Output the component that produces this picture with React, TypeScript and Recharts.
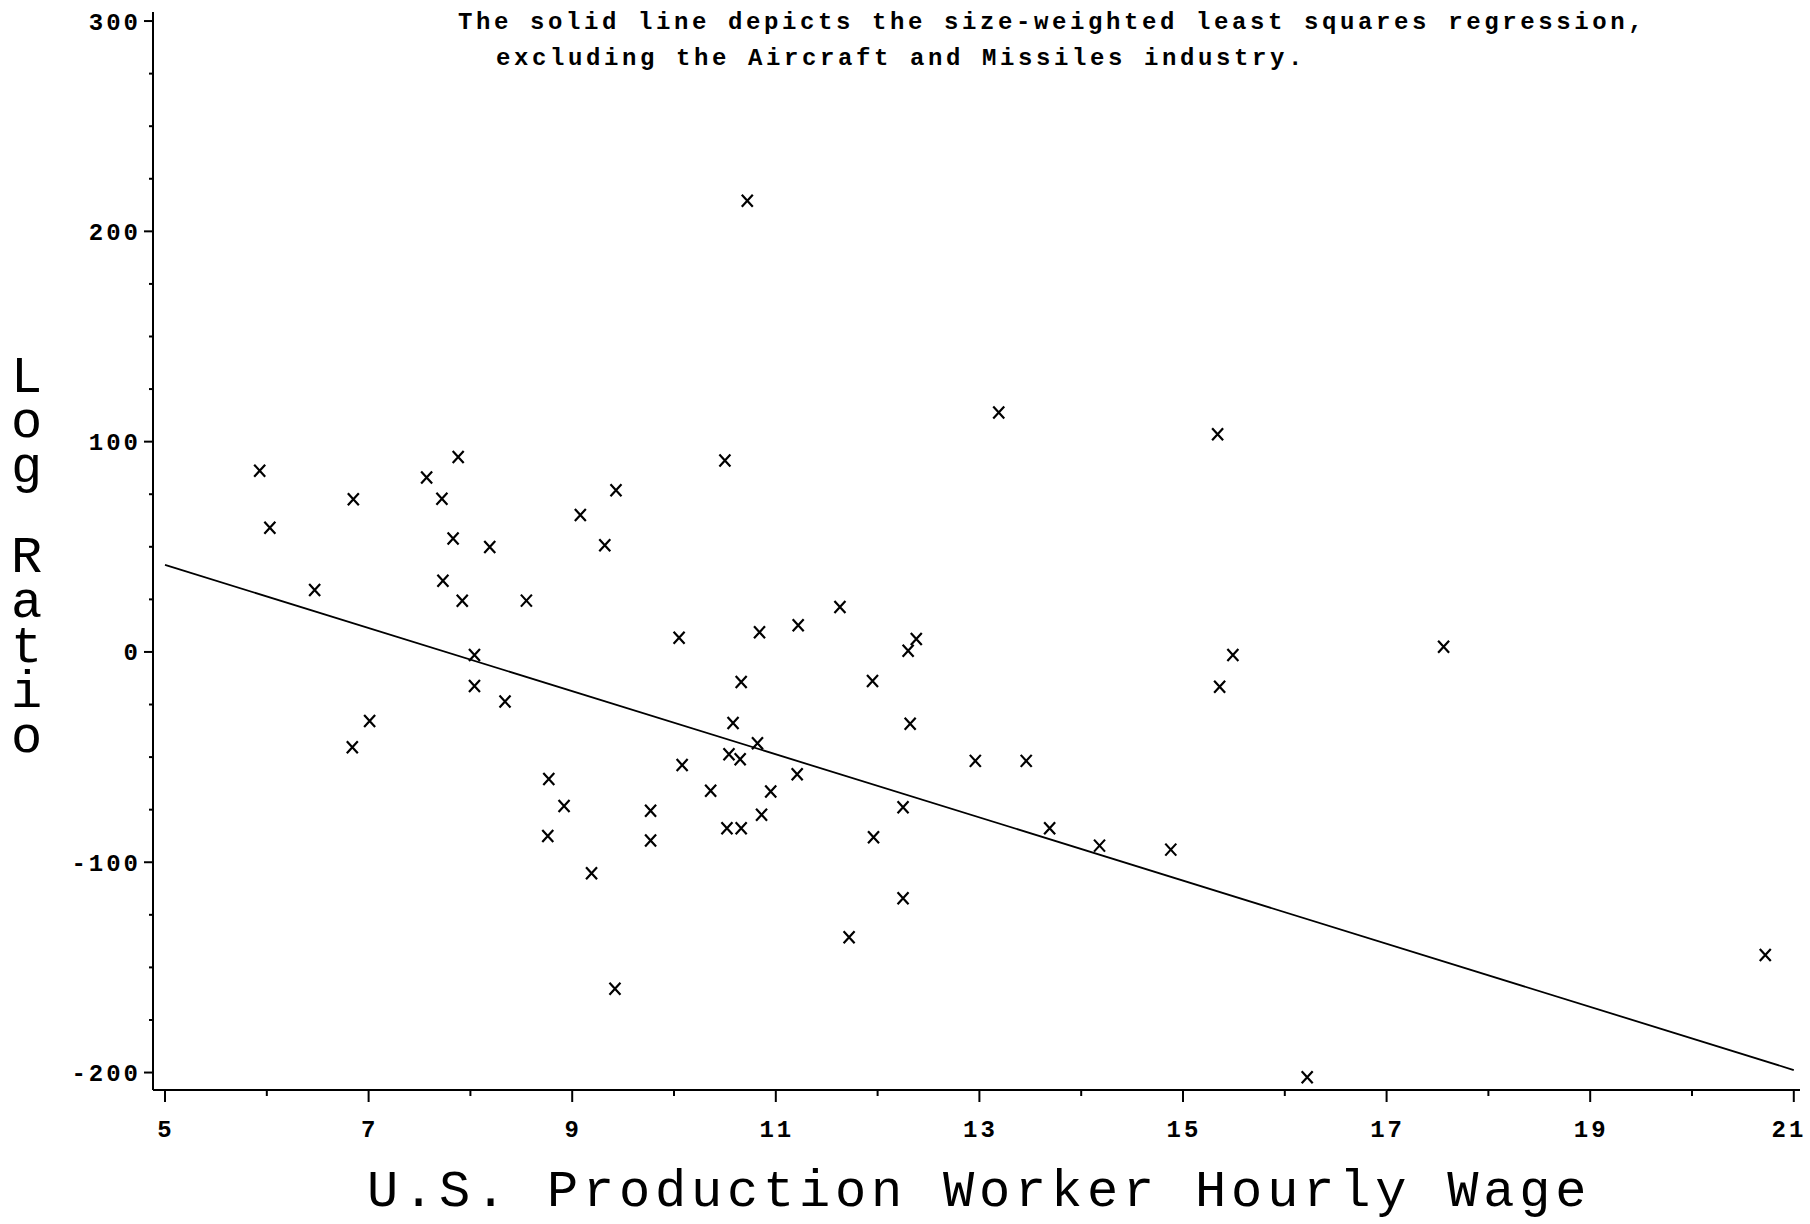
import { ScatterChart, Scatter, XAxis, YAxis } from "recharts";

// industries: U.S. production worker hourly wage vs log ratio
const wage = [
  5.93, 6.03, 6.47, 6.85, 6.84, 7.01, 7.57, 7.72, 7.88, 7.83, 7.73, 7.92, 8.19,
  8.04, 8.04, 8.34, 8.55, 9.08, 9.43, 9.32, 8.77, 8.92, 8.76, 9.19, 9.42, 9.77,
  9.77, 10.05, 10.08, 10.36, 10.5, 10.72, 10.54, 10.58, 10.66, 10.65, 10.52, 10.66,
  10.82, 10.84, 10.86, 10.95, 11.22, 11.21, 11.63, 11.72, 11.95, 11.96, 12.25,
  12.25, 12.3, 12.38, 12.32, 12.96, 13.19, 13.46, 13.69, 14.18, 14.88, 15.34,
  15.36, 15.49, 16.22, 17.56, 20.72,
];
const logRatio = [
  86.2, 59.1, 29.5, 72.6, -45.3, -32.8, 82.9, 72.9, 92.7, 53.9, 33.9, 24.3, 49.9,
  -1.4, -16.2, -23.6, 24.4, 65.1, 76.9, 50.7, -60.4, -73.2, -87.5, -105.2, -160.2,
  -75.5, -89.7, 6.8, -53.8, -66.0, 91.0, 214.6, -48.6, -33.8, -14.3, -51.0, -83.8,
  -83.8, -43.4, 9.4, -77.4, -66.4, 12.7, -58.2, 21.4, -135.7, -13.8, -88.1, -73.9,
  -117.1, 0.6, 6.2, -34.1, -51.8, 113.9, -51.8, -83.8, -92.1, -94.0, 103.5,
  -16.5, -1.4, -202.2, 2.5, -144.1,
];

// size-weighted least squares line (ends)
const fitWage = [5, 21];
const fitLogRatio = [41.4, -198.8];

const xTicks = [5, 6, 7, 8, 9, 10, 11, 12, 13, 14, 15, 16, 17, 18, 19, 20, 21];
const yTicks = [
  -200, -175, -150, -125, -100, -75, -50, -25, 0, 25, 50, 75, 100, 125, 150, 175,
  200, 225, 250, 275, 300,
];

const noteLines = [
  "The solid line depicts the size-weighted least squares regression,",
  "excluding the Aircraft and Missiles industry.",
];
const xTitle = "U.S. Production Worker Hourly Wage";
const yTitle = "Log Ratio";

const FONT = "'Liberation Mono', 'Courier New', monospace";

const points = wage.map((w, i) => ({ wage: w, logRatio: logRatio[i] }));
const fit = fitWage.map((w, i) => ({ wage: w, logRatio: fitLogRatio[i] }));

function XTick({ x, y, payload }: any) {
  const v = payload.value;
  const major = v % 2 === 1;
  return (
    <g>
      <line x1={x} x2={x} y1={y} y2={y + (major ? 12 : 6)} stroke="#000" strokeWidth={2} />
      {major && (
        <text
          x={Math.min(x + 1, 1789)}
          y={y + 40}
          textAnchor="middle"
          dominantBaseline="central"
          fontFamily={FONT}
          fontWeight="bold"
          fontSize={24}
          letterSpacing={3}
          fill="#000"
        >
          {v}
        </text>
      )}
    </g>
  );
}

function YTick({ x, y, payload }: any) {
  const v = payload.value;
  const major = v % 100 === 0;
  return (
    <g>
      <line x1={x} x2={x - (major ? 9 : 4)} y1={y} y2={y} stroke="#000" strokeWidth={2} />
      {major && (
        <text
          x={x - 12}
          y={y + 2}
          textAnchor="end"
          dominantBaseline="central"
          fontFamily={FONT}
          fontWeight="bold"
          fontSize={24}
          letterSpacing={3}
          fill="#000"
        >
          {v}
        </text>
      )}
    </g>
  );
}

function XMark({ cx, cy }: any) {
  return (
    <path
      d={`M${cx - 5.5},${cy - 6}L${cx + 5.5},${cy + 6}M${cx + 5.5},${cy - 6}L${cx - 5.5},${cy + 6}`}
      stroke="#000"
      strokeWidth={2.2}
      fill="none"
    />
  );
}

export default function App() {
  return (
    <div style={{ position: "absolute", left: 0, top: 0, width: 1810, height: 1224, background: "#fff" }}>
      <ScatterChart width={1810} height={1224} margin={{ top: 12, right: 10, bottom: 0, left: 0 }}>
        <XAxis
          type="number"
          dataKey="wage"
          domain={[4.882, 21.061]}
          ticks={xTicks}
          interval={0}
          allowDataOverflow
          height={134}
          tickSize={0}
          tickMargin={0}
          tickLine={false}
          tick={<XTick />}
          axisLine={{ stroke: "#000", strokeWidth: 2 }}
        />
        <YAxis
          type="number"
          dataKey="logRatio"
          domain={[-208.3, 304.3]}
          ticks={yTicks}
          interval={0}
          allowDataOverflow
          width={153}
          tickSize={0}
          tickMargin={0}
          tickLine={false}
          tick={<YTick />}
          axisLine={{ stroke: "#000", strokeWidth: 2 }}
        />
        <Scatter data={points} shape={<XMark />} isAnimationActive={false} />
        <Scatter
          data={fit}
          line={{ stroke: "#000", strokeWidth: 1.8 }}
          shape={() => <g />}
          isAnimationActive={false}
        />
      </ScatterChart>
      <svg
        width={1810}
        height={1224}
        style={{ position: "absolute", left: 0, top: 0, pointerEvents: "none" }}
      >
        <text x={458} y={29} fontFamily={FONT} fontWeight="bold" fontSize={24} letterSpacing={3.6} fill="#000">
          {noteLines[0]}
        </text>
        <text x={496} y={65} fontFamily={FONT} fontWeight="bold" fontSize={24} letterSpacing={3.6} fill="#000">
          {noteLines[1]}
        </text>
        <text x={367} y={1206} fontFamily={FONT} fontSize={52} letterSpacing={4.8} fill="#000">
          {xTitle}
        </text>
      </svg>
      {/* y title: upright letters stacked in a single vertical line */}
      <div
        style={{
          position: "absolute",
          left: 0,
          top: 349,
          width: 52,
          writingMode: "vertical-rl",
          textOrientation: "upright",
          fontFamily: FONT,
          fontSize: 52,
          lineHeight: "52px",
          letterSpacing: -14,
          whiteSpace: "pre",
          color: "#000",
        }}
      >
        {yTitle}
      </div>
    </div>
  );
}
